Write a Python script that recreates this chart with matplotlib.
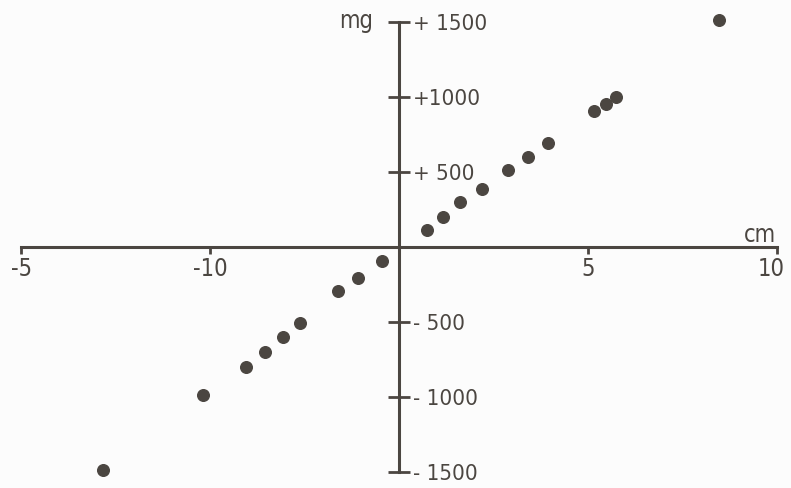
import matplotlib.pyplot as plt
import matplotlib.transforms as mtransforms

# data (cm vs mg)
x_cm = [0.73, 1.15, 1.61, 2.19, 2.87, 3.42, 3.93, 5.16, 5.47, 5.73, 8.47,
        -0.44, -1.09, -1.61, -2.61, -3.06, -3.55, -4.06, -5.18, -7.84]
y_mg = [113, 202, 302, 387, 513, 602, 691, 909, 953, 1000, 1513,
        -91, -204, -291, -504, -598, -698, -798, -984, -1487]

x_ticks = [-10, -5, 5, 10]
x_labels = ['-5', '-10', '5', '10']  # as printed in the original
y_ticks = [-1500, -1000, -500, 500, 1000, 1500]
y_labels = ['- 1500', '- 1000', '- 500', '+ 500', '+1000', '+ 1500']

ink = '#4b4641'
plt.rcParams['font.family'] = 'DejaVu Sans'
plt.rcParams['font.stretch'] = 'condensed'

fig = plt.figure(figsize=(7.91, 4.88), dpi=100)
fig.patch.set_facecolor('#fcfcfc')
ax = fig.add_axes([0, 0, 1, 1])
ax.set_facecolor('#fcfcfc')

ax.scatter(x_cm, y_mg, s=70, color=ink, zorder=3)

ax.set_xlim(-10.56, 10.37)
ax.set_ylim(-1607, 1647)

for side in ['top', 'left']:
    ax.spines[side].set_visible(False)
ax.spines['bottom'].set_position(('data', 0))
ax.spines['right'].set_position(('data', 0))
ax.spines['bottom'].set_bounds(-10, 10)
ax.spines['right'].set_bounds(-1500, 1500)
for side in ['bottom', 'right']:
    ax.spines[side].set_color(ink)
    ax.spines[side].set_linewidth(2.2)

ax.yaxis.tick_right()
ax.set_xticks(x_ticks)
ax.set_xticklabels(x_labels)
ax.set_yticks(y_ticks)
ax.set_yticklabels(y_labels)
ax.tick_params(axis='x', direction='out', length=5, width=2, color=ink,
               labelsize=17, labelcolor=ink, pad=2)
ax.tick_params(axis='y', direction='inout', length=16, width=2, color=ink,
               labelsize=16, labelcolor=ink, pad=2)

# the "10" sits a little left of its tick in the original
shift = mtransforms.ScaledTranslation(-6 / 100, 0, fig.dpi_scale_trans)
lab10 = ax.get_xticklabels()[-1]
lab10.set_transform(lab10.get_transform() + shift)

ax.text(-0.69, 1510, 'mg', fontsize=17, color=ink, ha='right', va='center')
ax.text(9.55, 80, 'cm', fontsize=17, color=ink, ha='center', va='center')

fig.savefig('out.png', dpi=100, facecolor=fig.get_facecolor())
